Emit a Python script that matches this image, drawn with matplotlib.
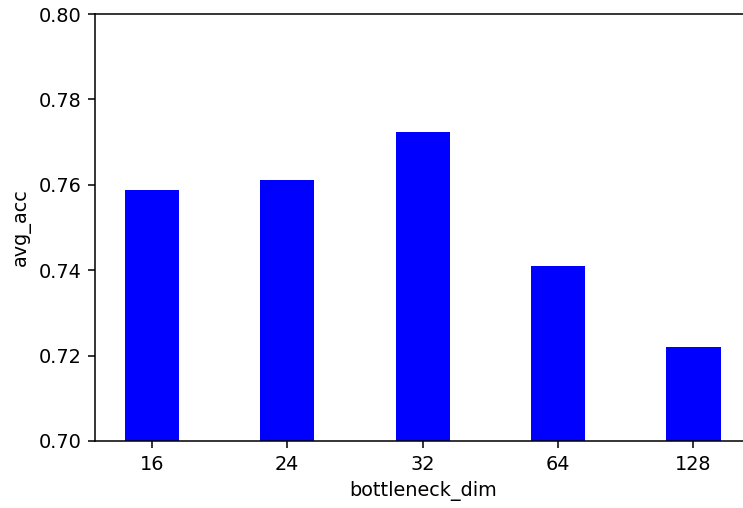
import matplotlib
matplotlib.use("Agg")
import matplotlib.pyplot as plt

categories = ["16", "24", "32", "64", "128"]
avg_acc = [0.7588, 0.7611, 0.7724, 0.7410, 0.7220]

dpi = 139
fig = plt.figure(figsize=(743 / dpi, 508 / dpi), dpi=dpi)
W, H = 743, 508
ax = fig.add_axes([95 / W, (H - 441) / H, (750.3 - 95) / W, 427 / H])
ax.bar(categories, avg_acc, width=0.4, color="#0000ff")
ax.set_ylim(0.70, 0.80)
ax.set_xlabel("bottleneck_dim")
ax.set_ylabel("avg_acc")
fig.savefig("out.png", dpi=dpi)
